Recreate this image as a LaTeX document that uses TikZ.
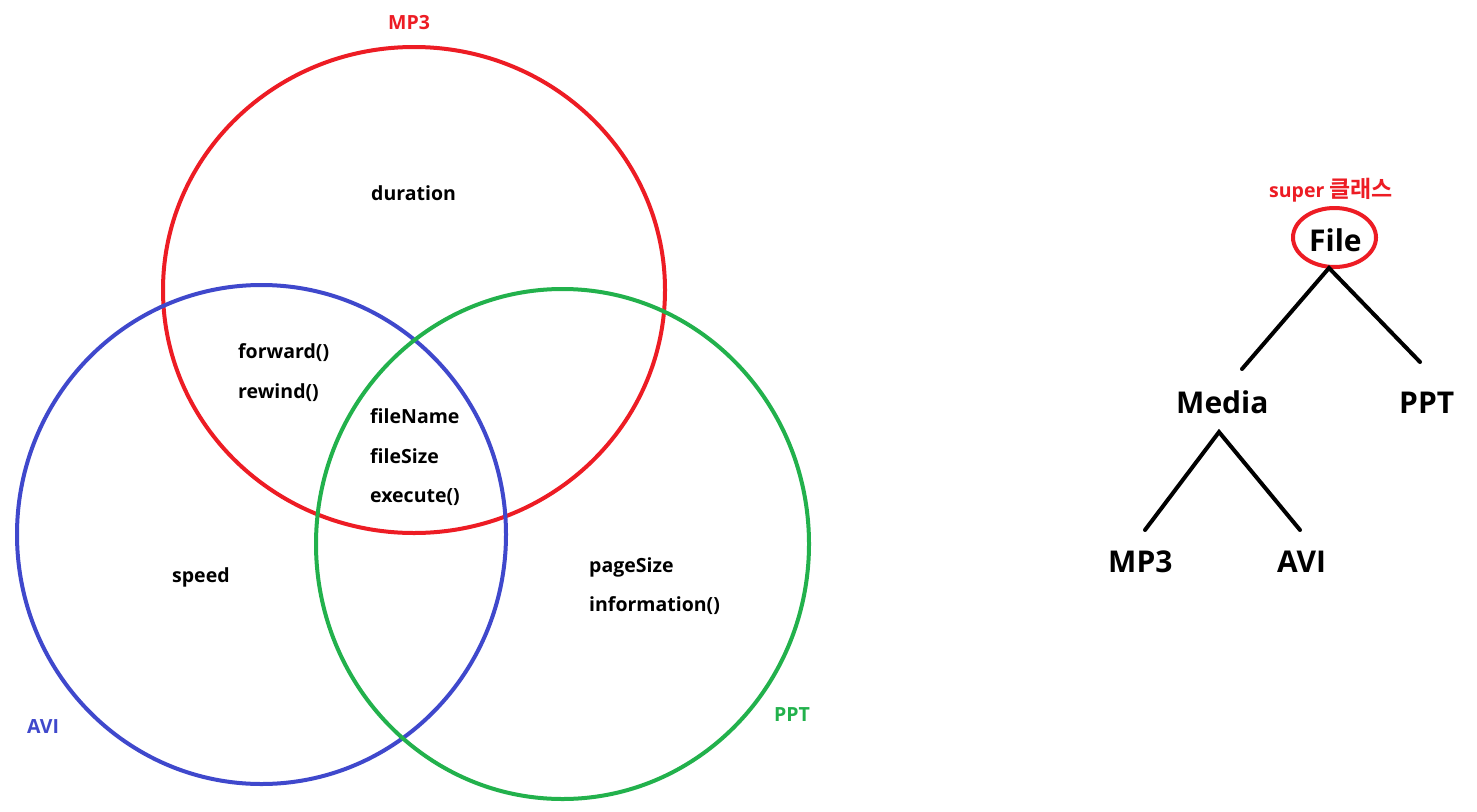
\documentclass[tikz,border=0pt]{standalone}
\usepackage{fontspec}
\setmainfont{Open Sans}[BoldFont={* Bold}]
\newfontfamily\krfont{Noto Sans CJK KR}[BoldFont={* Bold}]
\definecolor{pred}{HTML}{ED1C24}
\definecolor{pblue}{HTML}{3F48CC}
\definecolor{pgreen}{HTML}{22B14C}
\begin{document}
\begin{tikzpicture}[x=1pt,y=-1pt,
  ring/.style={line width=4pt},
  lbl/.style={anchor=base west,inner sep=0pt,font=\fontsize{19.5}{19.5}\selectfont\bfseries},
  big/.style={anchor=base west,inner sep=0pt,font=\fontsize{30}{30}\selectfont\bfseries},
  edge/.style={line width=4pt,line cap=round}]
\useasboundingbox (0,0) rectangle (1477,811);
\fill[white] (0,0) rectangle (1477,811);
% Venn circles
\draw[ring,pred] (414,290) ellipse [x radius=251pt,y radius=243pt];
\draw[ring,pblue] (261.5,534.5) ellipse [x radius=244.5pt,y radius=249.5pt];
\draw[ring,pgreen] (562.5,544) ellipse [x radius=246.5pt,y radius=255pt];
% set labels
\node[lbl,text=pred] (lmp3) at (388,29) {MP3};
\node[lbl,text=pblue] (lavi) at (27,733) {AVI};
\node[lbl,text=pgreen] (lppt) at (774,721) {PPT};
% members
\node[lbl] (dur) at (371,200) {duration};
\node[lbl] (fwd) at (238,358) {forward()};
\node[lbl] (rew) at (238,398) {rewind()};
\node[lbl] (fn) at (370,423) {fileName};
\node[lbl] (fs) at (370,463) {fileSize};
\node[lbl] (ex) at (370,502) {execute()};
\node[lbl] (spd) at (172,582) {speed};
\node[lbl] (ps) at (589,572) {pageSize};
\node[lbl] (inf) at (589,611) {information()};
% tree
\node[lbl,text=pred] (sup) at (1269,197) {super {\krfont\bfseries\fontsize{23}{23}\selectfont 클래스}};
\node[big] (file) at (1309,251) {File};
\draw[line width=4pt,pred] (1334.5,237.5) ellipse [x radius=41.5pt,y radius=29.5pt];
\node[big] (media) at (1176,413) {Media};
\node[big] (tppt) at (1399,413) {PPT};
\node[big] (tmp3) at (1108,572) {MP3};
\node[big] (tavi) at (1277,572) {AVI};
\coordinate (fapex) at (1329,268);
\coordinate (fl) at (1242,369);
\coordinate (fr) at (1420,362);
\coordinate (mapex) at (1219,432);
\coordinate (ml) at (1145,530);
\coordinate (mr) at (1300,530);
\draw[edge] (fl) -- (fapex) -- (fr);
\draw[edge] (ml) -- (mapex) -- (mr);
\end{tikzpicture}
\end{document}
